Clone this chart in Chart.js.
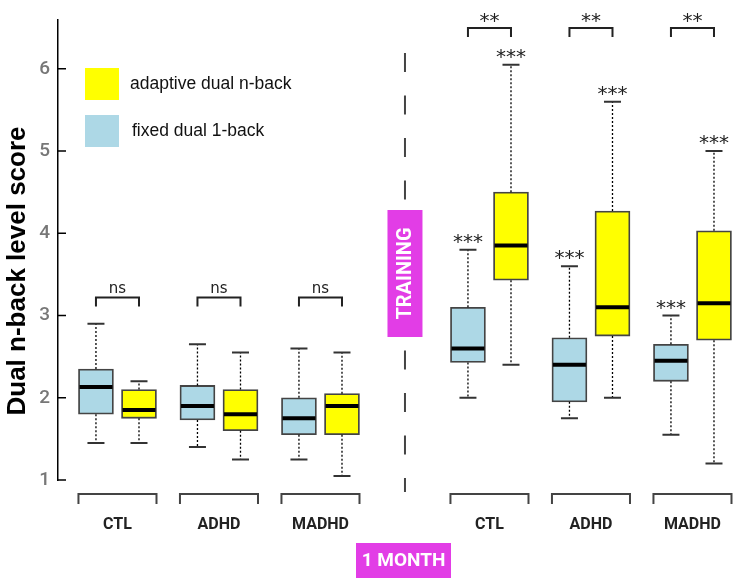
<!DOCTYPE html>
<html>
<head>
<meta charset="utf-8">
<script src="https://cdn.jsdelivr.net/npm/chart.js@4.4.1/dist/chart.umd.min.js"></script>
<style>
    html, body { margin: 0; padding: 0; background: #fff; }
    #wrap { width: 745px; height: 588px; }
</style>
</head>
<body>
<div id="wrap"><canvas id="myChart"></canvas></div>
<script>
// groups: first three = 1 month before training, last three = after training
const groups = ["CTL", "ADHD", "MADHD", "CTL", "ADHD", "MADHD"];

// fixed dual 1-back (blue boxes)
const fixedMin = [1.45, 1.40, 1.25, 2.00, 1.75, 1.55];
const fixedQ1  = [1.80, 1.73, 1.55, 2.43, 1.95, 2.20];
const fixedMed = [2.13, 1.90, 1.75, 2.60, 2.40, 2.45];
const fixedQ3  = [2.35, 2.15, 2.00, 3.10, 2.73, 2.65];
const fixedMax = [2.90, 2.65, 2.60, 3.80, 3.60, 3.00];

// adaptive dual n-back (yellow boxes)
const adaptMin = [1.45, 1.25, 1.05, 2.40, 2.00, 1.20];
const adaptQ1  = [1.75, 1.60, 1.55, 3.43, 2.75, 2.70];
const adaptMed = [1.85, 1.80, 1.90, 3.85, 3.10, 3.15];
const adaptQ3  = [2.10, 2.10, 2.05, 4.50, 4.27, 4.03];
const adaptMax = [2.20, 2.55, 2.55, 6.05, 5.60, 5.00];

// significance marks
const fixedSig = ["", "", "", "***", "***", "***"];
const adaptSig = ["", "", "", "***", "***", "***"];
const pairSig  = ["ns", "ns", "ns", "**", "**", "**"];

const yTicks = [1, 2, 3, 4, 5, 6];

const BLUE = "#add8e6";
const YELLOW = "#ffff00";
const MAGENTA = "#e23de6";

// x position of a group centre (gap between the two halves)
function groupX(i) {
    return i + 1 + (i >= 3 ? 0.665 : 0);
}
const pairOffset = 0.212;

const stats = [
    { min: fixedMin, q1: fixedQ1, med: fixedMed, q3: fixedQ3, max: fixedMax, sig: fixedSig },
    { min: adaptMin, q1: adaptQ1, med: adaptMed, q3: adaptQ3, max: adaptMax, sig: adaptSig }
];

const extras = {
    id: "boxExtras",
    afterDatasetsDraw(chart) {
        const ctx = chart.ctx;
        const y = chart.scales.y;
        const area = chart.chartArea;

        ctx.save();

        // whiskers, caps, medians, star marks
        stats.forEach((s, d) => {
            const meta = chart.getDatasetMeta(d);
            meta.data.forEach((el, i) => {
                const x = el.x;
                const half = el.width / 2;
                ctx.strokeStyle = "#000";
                ctx.lineWidth = 1.3;
                ctx.setLineDash([2, 2]);
                ctx.beginPath();
                ctx.moveTo(x, y.getPixelForValue(s.q3[i]));
                ctx.lineTo(x, y.getPixelForValue(s.max[i]));
                ctx.moveTo(x, y.getPixelForValue(s.q1[i]));
                ctx.lineTo(x, y.getPixelForValue(s.min[i]));
                ctx.stroke();
                ctx.setLineDash([]);

                ctx.strokeStyle = "#333";
                ctx.lineWidth = 2;
                ctx.beginPath();
                [s.max[i], s.min[i]].forEach(v => {
                    const py = y.getPixelForValue(v);
                    ctx.moveTo(x - 8.5, py);
                    ctx.lineTo(x + 8.5, py);
                });
                ctx.stroke();

                ctx.strokeStyle = "#000";
                ctx.lineWidth = 4;
                ctx.beginPath();
                const pm = y.getPixelForValue(s.med[i]);
                ctx.moveTo(x - half + 1, pm);
                ctx.lineTo(x + half - 1, pm);
                ctx.stroke();

                if (s.sig[i]) {
                    ctx.fillStyle = "#222";
                    ctx.font = "20px 'DejaVu Sans'";
                    ctx.textAlign = "center";
                    ctx.textBaseline = "alphabetic";
                    ctx.fillText(s.sig[i], x, y.getPixelForValue(s.max[i]) - 2);
                }
            });
        });

        // pair brackets (ns / **)
        const m0 = chart.getDatasetMeta(0).data;
        const m1 = chart.getDatasetMeta(1).data;
        groups.forEach((g, i) => {
            const x1 = m0[i].x, x2 = m1[i].x;
            const py = i < 3 ? y.getPixelForValue(3.22) : y.getPixelForValue(6.495);
            ctx.strokeStyle = "#222";
            ctx.lineWidth = 2;
            ctx.beginPath();
            ctx.moveTo(x1, py + 9);
            ctx.lineTo(x1, py);
            ctx.lineTo(x2, py);
            ctx.lineTo(x2, py + 9);
            ctx.stroke();
            ctx.fillStyle = "#222";
            ctx.textAlign = "center";
            ctx.textBaseline = "alphabetic";
            if (pairSig[i] === "ns") {
                ctx.font = "15px 'DejaVu Sans'";
                ctx.fillText(pairSig[i], (x1 + x2) / 2, py - 4);
            } else {
                ctx.font = "20px 'DejaVu Sans'";
                ctx.fillText(pairSig[i], (x1 + x2) / 2, py - 1);
            }

            // group bracket under the axis
            const l = x1 - m0[i].width / 2;
            const r = x2 + m1[i].width / 2;
            const by = area.bottom + 14;
            ctx.strokeStyle = "#444";
            ctx.beginPath();
            ctx.moveTo(l, by + 10);
            ctx.lineTo(l, by);
            ctx.lineTo(r, by);
            ctx.lineTo(r, by + 10);
            ctx.stroke();
            ctx.fillStyle = "#222";
            ctx.font = "bold 16px Roboto";
            ctx.textBaseline = "middle";
            ctx.fillText(g, (l + r) / 2, by + 31);
        });

        // inward tick marks on the y axis
        ctx.strokeStyle = "#000";
        ctx.lineWidth = 1.5;
        ctx.beginPath();
        yTicks.forEach(v => {
            const py = y.getPixelForValue(v);
            ctx.moveTo(area.left, py);
            ctx.lineTo(area.left + 8, py);
        });
        ctx.stroke();

        // y axis title
        ctx.save();
        ctx.translate(18, 271);
        ctx.rotate(-Math.PI / 2);
        ctx.fillStyle = "#000";
        ctx.font = "bold 26px 'Liberation Sans'";
        ctx.textAlign = "center";
        ctx.textBaseline = "middle";
        ctx.fillText("Dual n-back level score", 0, 0);
        ctx.restore();

        // legend
        ctx.fillStyle = YELLOW;
        ctx.fillRect(85, 68, 34, 32);
        ctx.fillStyle = BLUE;
        ctx.fillRect(85, 115, 34, 32);
        ctx.fillStyle = "#111";
        ctx.font = "17.5px 'Liberation Sans'";
        ctx.textAlign = "left";
        ctx.textBaseline = "middle";
        ctx.fillText("adaptive dual n-back", 130, 84);
        ctx.fillText("fixed dual 1-back", 132, 131);

        // dashed separator
        const sx = chart.scales.x.getPixelForValue((groupX(2) + groupX(3)) / 2);
        ctx.strokeStyle = "#444";
        ctx.lineWidth = 2;
        ctx.setLineDash([19, 23.5]);
        ctx.beginPath();
        ctx.moveTo(sx, 53);
        ctx.lineTo(sx, 492);
        ctx.stroke();
        ctx.setLineDash([]);

        // TRAINING label
        ctx.fillStyle = MAGENTA;
        ctx.fillRect(sx - 17.5, 210, 35, 127);
        ctx.save();
        ctx.translate(sx, 273.5);
        ctx.rotate(-Math.PI / 2);
        ctx.fillStyle = "#fff";
        ctx.font = "bold 20px Roboto";
        ctx.textAlign = "center";
        ctx.textBaseline = "middle";
        ctx.fillText("TRAINING", 0, 1);
        ctx.restore();

        // 1 MONTH label
        ctx.fillStyle = MAGENTA;
        ctx.fillRect(356, 543, 95, 35);
        ctx.fillStyle = "#fff";
        ctx.font = "bold 19px Roboto";
        ctx.textAlign = "center";
        ctx.textBaseline = "middle";
        ctx.fillText("1 MONTH", 403.5, 561);

        ctx.restore();
    }
};

function boxData(q1, q3, side) {
    return groups.map((g, i) => ({ x: groupX(i) + side * pairOffset, y: [q1[i], q3[i]] }));
}

const canvas = document.getElementById("myChart");
new Chart(canvas, {
    type: "bar",
    data: {
        datasets: [
            {
                label: "fixed dual 1-back",
                data: boxData(fixedQ1, fixedQ3, -1),
                backgroundColor: BLUE,
                borderColor: "#444",
                borderWidth: 1.8,
                borderSkipped: false,
                barThickness: 35,
                grouped: false
            },
            {
                label: "adaptive dual n-back",
                data: boxData(adaptQ1, adaptQ3, 1),
                backgroundColor: YELLOW,
                borderColor: "#444",
                borderWidth: 1.8,
                borderSkipped: false,
                barThickness: 35,
                grouped: false
            }
        ]
    },
    options: {
        responsive: true,
        maintainAspectRatio: false,
        animation: false,
        layout: { padding: { top: 16, bottom: 108, left: 0, right: 10 } },
        plugins: {
            legend: { display: false },
            tooltip: { enabled: false }
        },
        scales: {
            x: {
                type: "linear",
                min: 0.414,
                max: 7.084,
                offset: false,
                display: false
            },
            y: {
                min: 1,
                max: 6.6,
                afterFit: (scale) => { scale.width = 58; },
                afterBuildTicks: (scale) => { scale.ticks = yTicks.map(v => ({ value: v })); },
                grid: { display: true, drawOnChartArea: false, drawTicks: false },
                border: { display: true, color: "#000", width: 1.5 },
                ticks: {
                    padding: 8,
                    color: "#777",
                    font: { size: 19, family: "Roboto", weight: "500" }
                }
            }
        }
    },
    plugins: [extras]
});
</script>
</body>
</html>
